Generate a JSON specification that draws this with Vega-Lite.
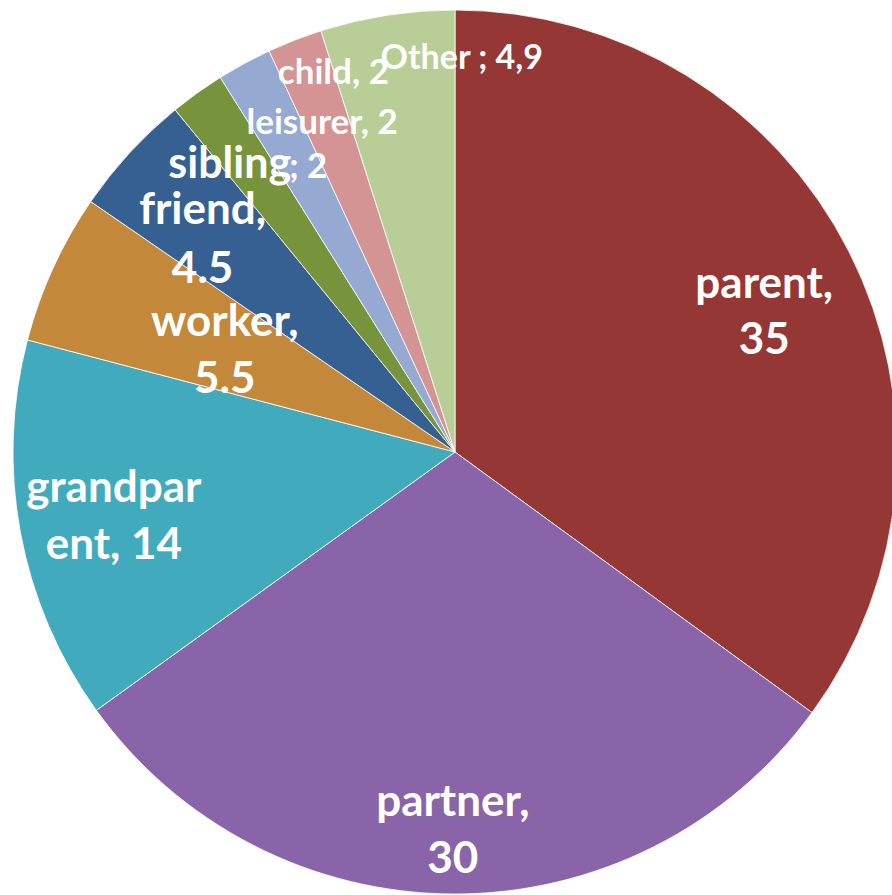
{
  "$schema": "https://vega.github.io/schema/vega-lite/v6.json",
  "autosize": "none",
  "width": 874,
  "height": 886,
  "padding": {"left": 18, "top": 9, "right": 0, "bottom": 0},
  "background": "#ffffff",
  "view": {"stroke": null},
  "data": {
    "values": [
      {"cat": "parent", "value": 35, "rank": 1, "label": "parent,\n35"},
      {"cat": "partner", "value": 30, "rank": 2, "label": "partner,\n30"},
      {"cat": "grandparent", "value": 14, "rank": 3, "label": "grandpar\nent, 14"},
      {"cat": "worker", "value": 5.5, "rank": 4, "label": "worker,\n5.5"},
      {"cat": "friend", "value": 4.5, "rank": 5, "label": "friend,\n4.5"},
      {"cat": "sibling", "value": 2, "rank": 6, "label": "sibling"},
      {"cat": "leisurer", "value": 2, "rank": 7, "label": "leisurer, 2"},
      {"cat": "child", "value": 2, "rank": 8, "label": "child, 2"},
      {"cat": "Other", "value": 4.9, "rank": 9, "label": "Other ; 4,9"}
    ]
  },
  "encoding": {
    "theta": {"field": "value", "type": "quantitative", "stack": true},
    "order": {"field": "rank", "type": "quantitative"}
  },
  "layer": [
    {
      "mark": {"type": "arc", "outerRadius": 442, "stroke": "#ffffff", "strokeWidth": 0.8},
      "encoding": {
        "color": {
          "field": "cat",
          "type": "nominal",
          "legend": null,
          "scale": {
            "domain": ["parent", "partner", "grandparent", "worker", "friend", "sibling", "leisurer", "child", "Other"],
            "range": ["#953735", "#8964A8", "#41AABD", "#C4883A", "#376092", "#77933C", "#95A9D3", "#D49494", "#B9CD96"]
          }
        }
      }
    },
    {
      "mark": {"type": "text", "radius": 339, "dx": 7, "dy": -13, "color": "#ffffff", "font": "Lato", "fontWeight": "bold", "fontSize": 44, "lineHeight": 56, "lineBreak": "\n", "align": "center", "baseline": "middle"},
      "encoding": {"text": {"condition": {"test": "datum.cat === 'parent'", "field": "label"}, "value": ""}}
    },
    {
      "mark": {"type": "text", "radius": 380, "dx": -1, "dy": -29, "color": "#ffffff", "font": "Lato", "fontWeight": "bold", "fontSize": 44, "lineHeight": 57, "lineBreak": "\n", "align": "center", "baseline": "middle"},
      "encoding": {"text": {"condition": {"test": "datum.cat === 'partner'", "field": "label"}, "value": ""}}
    },
    {
      "mark": {"type": "text", "radius": 347, "dx": 0, "dy": -26, "color": "#ffffff", "font": "Lato", "fontWeight": "bold", "fontSize": 44, "lineHeight": 57, "lineBreak": "\n", "align": "center", "baseline": "middle"},
      "encoding": {"text": {"condition": {"test": "datum.cat === 'grandparent'", "field": "label"}, "value": ""}}
    },
    {
      "mark": {"type": "text", "radius": 251, "dx": -2, "dy": -25, "color": "#ffffff", "font": "Lato", "fontWeight": "bold", "fontSize": 44, "lineHeight": 57, "lineBreak": "\n", "align": "center", "baseline": "middle"},
      "encoding": {"text": {"condition": {"test": "datum.cat === 'worker'", "field": "label"}, "value": ""}}
    },
    {
      "mark": {"type": "text", "radius": 328, "dx": -11, "dy": -19, "color": "#ffffff", "font": "Lato", "fontWeight": "bold", "fontSize": 44, "lineHeight": 59, "lineBreak": "\n", "align": "center", "baseline": "middle"},
      "encoding": {"text": {"condition": {"test": "datum.cat === 'friend'", "field": "label"}, "value": ""}}
    },
    {
      "mark": {"type": "text", "radius": 365, "dx": 49, "dy": 10, "color": "#ffffff", "font": "Lato", "fontWeight": "bold", "fontSize": 43, "align": "right", "baseline": "middle"},
      "encoding": {"text": {"condition": {"test": "datum.cat === 'sibling'", "field": "label"}, "value": ""}}
    },
    {
      "mark": {"type": "text", "radius": 365, "dx": 47, "dy": 12, "color": "#ffffff", "font": "Lato", "fontWeight": "bold", "fontSize": 35, "align": "left", "baseline": "middle"},
      "encoding": {"text": {"condition": {"test": "datum.cat === 'sibling'", "value": "; 2"}, "value": ""}}
    },
    {
      "mark": {"type": "text", "radius": 352, "dx": 35, "dy": -20, "color": "#ffffff", "font": "Lato", "fontWeight": "bold", "fontSize": 35, "align": "center", "baseline": "middle"},
      "encoding": {"text": {"condition": {"test": "datum.cat === 'leisurer'", "field": "label"}, "value": ""}}
    },
    {
      "mark": {"type": "text", "radius": 396, "dx": 22, "dy": -10, "color": "#ffffff", "font": "Lato", "fontWeight": "bold", "fontSize": 35, "align": "center", "baseline": "middle"},
      "encoding": {"text": {"condition": {"test": "datum.cat === 'child'", "field": "label"}, "value": ""}}
    },
    {
      "mark": {"type": "text", "radius": 386, "dx": 66, "dy": -12, "color": "#ffffff", "font": "Lato", "fontWeight": "bold", "fontSize": 34, "align": "center", "baseline": "middle"},
      "encoding": {"text": {"condition": {"test": "datum.cat === 'Other'", "field": "label"}, "value": ""}}
    }
  ]
}
